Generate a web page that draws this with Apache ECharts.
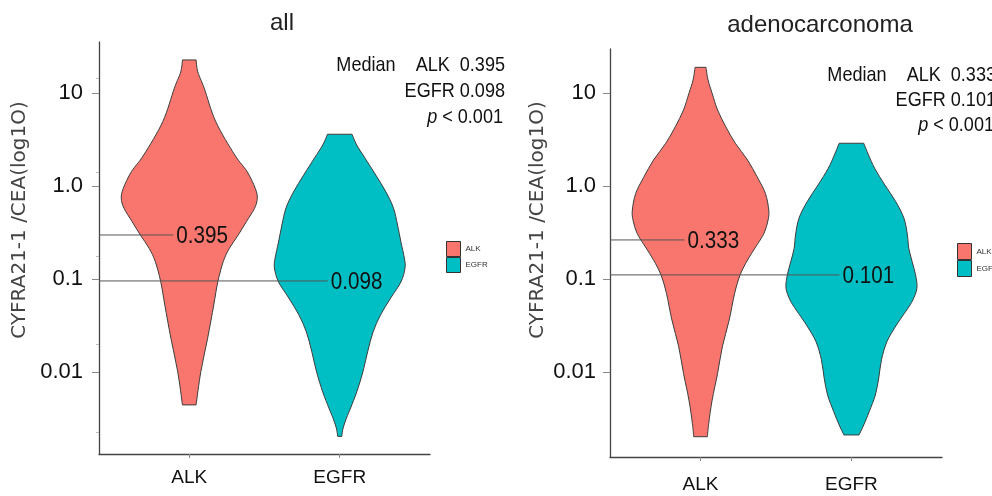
<!DOCTYPE html>
<html>
<head>
<meta charset="utf-8">
<script src="https://cdn.jsdelivr.net/npm/echarts@6/dist/echarts.min.js"></script>
<style>
  html, body { margin: 0; padding: 0; background: #fff; }
  #main { width: 992px; height: 496px; }
</style>
</head>
<body>
<div id="main"></div>
<script>
// groups / panels
const categories = ["ALK", "EGFR"];
const panelTitles = ["all", "adenocarconoma"];
const colors = ["#F8766D", "#00BFC4"];

// y axis (log10) ticks
const yTickValues = [0.01, 0.1, 1, 10];
const yTickLabels = ["0.01", "0.1", "1.0", "10"];
const yMinorTicks = [14.5, 1.41, 0.178, 0.0199, 0.00224];

// violin outlines: ratio at each level + relative density (half width)
const allAlkY = [22.9, 17.1, 11.35, 4.96, 2.17, 1.44, 0.952, 0.743, 0.58, 0.416, 0.299, 0.215, 0.155, 0.094, 0.0528, 0.0231, 0.0101, 0.00443];
const allAlkDensity = [0.10, 0.125, 0.22, 0.39, 0.67, 0.85, 0.97, 1.0, 0.96, 0.84, 0.72, 0.59, 0.5, 0.42, 0.36, 0.27, 0.17, 0.10];
const allEgfrY = [3.63, 2.78, 2.02, 1.32, 0.868, 0.584, 0.383, 0.251, 0.169, 0.132, 0.0933, 0.0628, 0.0412, 0.027, 0.0165, 0.01, 0.00611, 0.00411, 0.00321, 0.0025, 0.00203];
const allEgfrDensity = [0.18, 0.25, 0.37, 0.53, 0.68, 0.79, 0.85, 0.9, 0.95, 0.96, 0.9, 0.75, 0.6, 0.49, 0.41, 0.34, 0.25, 0.16, 0.10, 0.05, 0.03];
const adenoAlkY = [19.05, 13.9, 10.0, 6.61, 4.37, 2.9, 1.91, 1.26, 0.839, 0.554, 0.433, 0.311, 0.223, 0.161, 0.111, 0.0703, 0.0363, 0.0187, 0.00968, 0.00499, 0.0028, 0.00201];
const adenoAlkDensity = [0.08, 0.11, 0.17, 0.25, 0.37, 0.51, 0.69, 0.83, 0.95, 1.0, 0.99, 0.93, 0.81, 0.69, 0.58, 0.5, 0.42, 0.32, 0.25, 0.17, 0.12, 0.10];
const adenoEgfrY = [2.9, 2.17, 1.56, 1.03, 0.681, 0.451, 0.298, 0.215, 0.154, 0.111, 0.0802, 0.0595, 0.0465, 0.0321, 0.0212, 0.0135, 0.00861, 0.00565, 0.00374, 0.00269, 0.0021];
const adenoEgfrDensity = [0.18, 0.25, 0.34, 0.49, 0.65, 0.77, 0.82, 0.84, 0.89, 0.94, 0.96, 0.9, 0.81, 0.66, 0.52, 0.44, 0.4, 0.35, 0.26, 0.18, 0.11];

// medians: printed value and where the guide line sits
const allMedians = [0.395, 0.098];
const allMedianLines = [0.299, 0.0957];
const adenoMedians = [0.333, 0.101];
const adenoMedianLines = [0.264, 0.111];
const pTexts = ["< 0.001", "< 0.001"];

const FONT = "'Liberation Sans', Arial, sans-serif";
const NARROW_X = 0.86; // horizontal squeeze for the condensed annotation text
const VIOLIN_HALF = 0.452; // category units for density 1
const MEDIAN_END = [-16, -12]; // px from group centre where guide stops

const log10 = (v) => Math.log10(v);
const fmt = (p) => p[0].toFixed(2) + "," + p[1].toFixed(2);

// smooth open curve through points (catmull-rom as cubic beziers)
function curve(pts) {
  let d = "";
  for (let i = 0; i < pts.length - 1; i++) {
    const p0 = pts[i - 1] || pts[i];
    const p1 = pts[i];
    const p2 = pts[i + 1];
    const p3 = pts[i + 2] || p2;
    const c1 = [p1[0] + (p2[0] - p0[0]) / 6, p1[1] + (p2[1] - p0[1]) / 6];
    const c2 = [p2[0] - (p3[0] - p1[0]) / 6, p2[1] - (p3[1] - p1[1]) / 6];
    d += " C" + fmt(c1) + " " + fmt(c2) + " " + fmt(p2);
  }
  return d;
}

function violinRenderer(ys, dens) {
  return function (params, api) {
    const unit = api.size([1, 0])[0];
    const xPos = api.value(0);
    const right = [];
    const left = [];
    for (let i = 0; i < ys.length; i++) {
      const p = api.coord([xPos, log10(ys[i])]);
      const w = dens[i] * VIOLIN_HALF * unit;
      right.push([p[0] + w, p[1]]);
      left.push([p[0] - w, p[1]]);
    }
    left.reverse();
    const d = "M" + fmt(right[0]) + curve(right) + " L" + fmt(left[0]) + curve(left) + " Z";
    return {
      type: "path",
      shape: { pathData: d },
      style: { fill: api.visual("color"), stroke: "#3d3d3d", lineWidth: 1 },
    };
  };
}

function medianRenderer(values) {
  return function (params, api) {
    const i = params.dataIndex;
    const p = api.coord([api.value(0), api.value(1)]);
    const x0 = params.coordSys.x;
    const x1 = p[0] + MEDIAN_END[i];
    return {
      type: "group",
      children: [
        { type: "line", shape: { x1: x0, y1: p[1], x2: x1, y2: p[1] }, style: { stroke: "#555", lineWidth: 1 } },
        {
          type: "text", x: x1 + 3, y: p[1] + 1, scaleX: NARROW_X,
          style: { text: values[i].toFixed(3), fontSize: 24, fontFamily: FONT, fill: "#111", align: "left", verticalAlign: "middle" },
        },
      ],
    };
  };
}

function yAxisFor(grid, min, max, margin) {
  return {
    type: "value", gridIndex: grid, min: min, max: max, position: "left",
    splitLine: { show: false },
    axisLine: { show: true, lineStyle: { color: "#444", width: 1.3 } },
    axisTick: { show: true, length: 7, lineStyle: { color: "#888" }, customValues: yTickValues.map(log10) },
    axisLabel: {
      customValues: yTickValues.map(log10), margin: margin,
      fontSize: 22, fontFamily: FONT, color: "#111",
      formatter: (v) => {
        const i = yTickValues.findIndex((t) => Math.abs(log10(t) - v) < 1e-6);
        return i < 0 ? "" : yTickLabels[i];
      },
    },
  };
}

function xAxisFor(grid, margin) {
  return {
    type: "value", gridIndex: grid, min: 0.4, max: 2.6,
    splitLine: { show: false },
    axisLine: { show: true, onZero: false, lineStyle: { color: "#444", width: 1.3 } },
    axisTick: { show: true, length: 4, lineStyle: { color: "#888" }, customValues: [1, 2] },
    axisLabel: {
      customValues: [1, 2], margin: margin,
      fontSize: 19, fontFamily: FONT, color: "#111",
      formatter: (v) => categories[Math.round(v) - 1] || "",
    },
  };
}

const chart = echarts.init(document.getElementById("main"));

const panels = [
  { ys: [allAlkY, allEgfrY], ds: [allAlkDensity, allEgfrDensity], med: allMedians, lines: allMedianLines },
  { ys: [adenoAlkY, adenoEgfrY], ds: [adenoAlkDensity, adenoEgfrDensity], med: adenoMedians, lines: adenoMedianLines },
];

const series = [];
panels.forEach((pan, k) => {
  categories.forEach((c, i) => {
    series.push({
      type: "custom", name: c, xAxisIndex: k, yAxisIndex: k,
      itemStyle: { color: colors[i] },
      renderItem: violinRenderer(pan.ys[i], pan.ds[i]),
      data: [[i + 1, log10(pan.ys[i][0])]],
      z: 2,
    });
  });
  series.push({
    type: "custom", name: "median" + k, xAxisIndex: k, yAxisIndex: k,
    renderItem: medianRenderer(pan.med),
    data: categories.map((c, i) => [i + 1, log10(pan.lines[i])]),
    z: 5, silent: true,
  });
});

const annot = (x, y, text, rich) => ({
  type: "text", x: x, y: y, scaleX: NARROW_X,
  style: { text: text, fontSize: 21, fontFamily: FONT, fill: "#111", align: "right", verticalAlign: "middle", rich: rich },
});
const italicRich = { i: { fontStyle: "italic", fontSize: 21, fontFamily: FONT, fill: "#111" } };

const yTitle = (x) => ({
  type: "text", x: x, y: 220, rotation: Math.PI / 2,
  style: { text: "CYFRA21-1 /CEA(log1O)", fontSize: 20, fontFamily: "'DejaVu Sans', sans-serif", fill: "#444", align: "center", verticalAlign: "middle" },
});

const legendFor = (left, top, h) => ({
  data: categories, orient: "vertical", left: left, top: top, padding: 0,
  itemWidth: 14, itemHeight: h, itemGap: 0, icon: "rect", selectedMode: false,
  itemStyle: { borderColor: "#333", borderWidth: 1 },
  textStyle: { fontSize: 8, fontFamily: FONT, color: "#333", padding: [0, 0, 0, 0] },
});

chart.setOption({
  backgroundColor: "#fff",
  animation: false,
  title: [
    { text: panelTitles[0], left: 282, top: 11, textAlign: "center", padding: 0,
      textStyle: { fontSize: 24, fontWeight: "normal", fontFamily: FONT, color: "#222" } },
    { text: panelTitles[1], left: 820, top: 13, textAlign: "center", padding: 0,
      textStyle: { fontSize: 24, fontWeight: "normal", fontFamily: FONT, color: "#222" } },
  ],
  legend: [legendFor(446, 241, 15), legendFor(957, 243, 16)],
  grid: [
    { left: 99, top: 42, width: 331, height: 412 },
    { left: 610, top: 49, width: 332, height: 408 },
  ],
  xAxis: [xAxisFor(0, 14), xAxisFor(1, 18)],
  yAxis: [
    yAxisFor(0, -2.882, 1.553, 16),
    yAxisFor(1, -2.915, 1.477, 14),
    {
      type: "value", gridIndex: 0, min: -2.882, max: 1.553, position: "left", offset: 0,
      splitLine: { show: false }, axisLine: { show: false }, axisLabel: { show: false },
      axisTick: { show: true, length: 3, lineStyle: { color: "#bbb" }, customValues: yMinorTicks.map(log10) },
    },
  ],
  series: series,
  graphic: [
    yTitle(20),
    yTitle(538),
    annot(505, 65, "Median    ALK  " + allMedians[0].toFixed(3)),
    annot(505, 91, "EGFR " + allMedians[1].toFixed(3)),
    annot(503, 117, "{i|p} " + pTexts[0], italicRich),
    annot(996, 75, "Median    ALK  " + adenoMedians[0].toFixed(3)),
    annot(996, 100, "EGFR " + adenoMedians[1].toFixed(3)),
    annot(994, 125, "{i|p} " + pTexts[1], italicRich),
  ],
});
</script>
</body>
</html>
